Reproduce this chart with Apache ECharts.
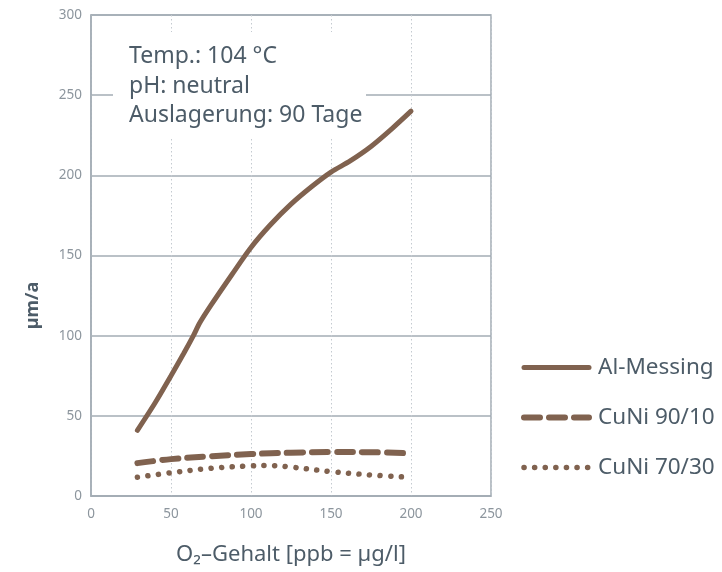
<!DOCTYPE html>
<html><head><meta charset="utf-8">
<script src="https://cdn.jsdelivr.net/npm/echarts@6/dist/echarts.min.js"></script>
<style>html,body{margin:0;padding:0;background:#fff}#c{width:722px;height:572px}</style>
</head><body><div id="c"></div>
<script>
const alMessing = [[29,41],[40,58],[50,75],[58,89],[64,100],[68,108],[75,119],[88,138],[100,155],[112,169],[125,182],[138,193],[150,202],[162,209],[175,218],[188,229],[200,240]];
const cuNi9010 = [[29,20.5],[50,23],[75,24.8],[100,26.2],[125,27],[150,27.4],[175,27.3],[200,26.6]];
const cuNi7030 = [[29,11.7],[50,14.5],[75,17.3],[100,18.8],[110,19],[125,18],[150,15.2],[175,13.1],[200,11.7]];
const xTicks = [0,50,100,150,200,250];
const yTicks = [0,50,100,150,200,250,300];
const seriesNames = ['Al-Messing','CuNi 90/10','CuNi 70/30'];
const infoLines = ['Temp.: 104 °C','pH: neutral','Auslagerung: 90 Tage'];

const brown = '#80624f';
const txt = '#4d5c68';
const font = 'Noto Sans';
const styles = [
  {color:brown,width:5,type:'solid',cap:'round'},
  {color:brown,width:6,type:[16,9],cap:'round'},
  {color:brown,width:5.5,type:[0.1,10.5],cap:'round'}
];
const chart = echarts.init(document.getElementById('c'));
chart.setOption({
  animation:false,
  textStyle:{fontFamily:font},
  grid:{left:91,right:231,top:15,bottom:76,outerBoundsMode:'none',containLabel:false,show:true,borderColor:'#a3acb4',borderWidth:1.5},
  xAxis:{type:'value',min:0,max:250,interval:50,
    axisLine:{show:true,lineStyle:{color:'#a3acb4',width:1.5}},
    axisTick:{show:false},
    axisLabel:{color:'#8c959d',fontSize:13.5,margin:11,formatter:v=>xTicks.includes(v)?String(v):''},
    splitLine:{show:true,lineStyle:{color:'#c4cad0',type:[1.5,2.5],width:1}},
    name:'O₂–Gehalt [ppb = µg/l]',nameLocation:'middle',nameGap:48,
    nameTextStyle:{fontSize:22,color:txt,fontFamily:font}},
  yAxis:{type:'value',min:0,max:300,interval:50,
    axisLine:{show:true,lineStyle:{color:'#a3acb4',width:1.5}},
    axisTick:{show:false},
    axisLabel:{color:'#8c959d',fontSize:13.5,margin:9,formatter:v=>yTicks.includes(v)?String(v):''},
    splitLine:{show:true,lineStyle:{color:'#a3acb4',width:1.5}},
    name:'µm/a',nameLocation:'middle',nameGap:49,nameRotate:90,
    nameTextStyle:{fontSize:18,fontWeight:'bold',color:txt,padding:[0,100,0,0]}},
  legend:{orient:'vertical',left:516,top:351,itemGap:27,itemWidth:65,itemHeight:14,
    textStyle:{fontSize:22.5,color:txt,fontFamily:font,padding:[0,0,0,4]},
    itemStyle:{opacity:0},
    data:seriesNames.map((n,i)=>({name:n,lineStyle:styles[i],itemStyle:{opacity:0}}))},
  graphic:[
    {type:'rect',shape:{x:113,y:32,width:253,height:105},style:{fill:'#fff'},z:1},
    {type:'text',left:129,top:42,z:2,style:{text:infoLines.join('\n'),fontSize:23,lineHeight:29.5,fill:txt,fontFamily:font}}
  ],
  series:[
    {name:seriesNames[0],type:'line',data:alMessing,smooth:0.3,symbol:'none',z:5,
      lineStyle:styles[0],itemStyle:{color:brown}},
    {name:seriesNames[1],type:'line',data:cuNi9010,smooth:0.4,symbol:'none',z:5,
      lineStyle:styles[1],itemStyle:{color:brown}},
    {name:seriesNames[2],type:'line',data:cuNi7030,smooth:0.4,symbol:'none',z:5,
      lineStyle:styles[2],itemStyle:{color:brown}}
  ]
});
</script></body></html>
